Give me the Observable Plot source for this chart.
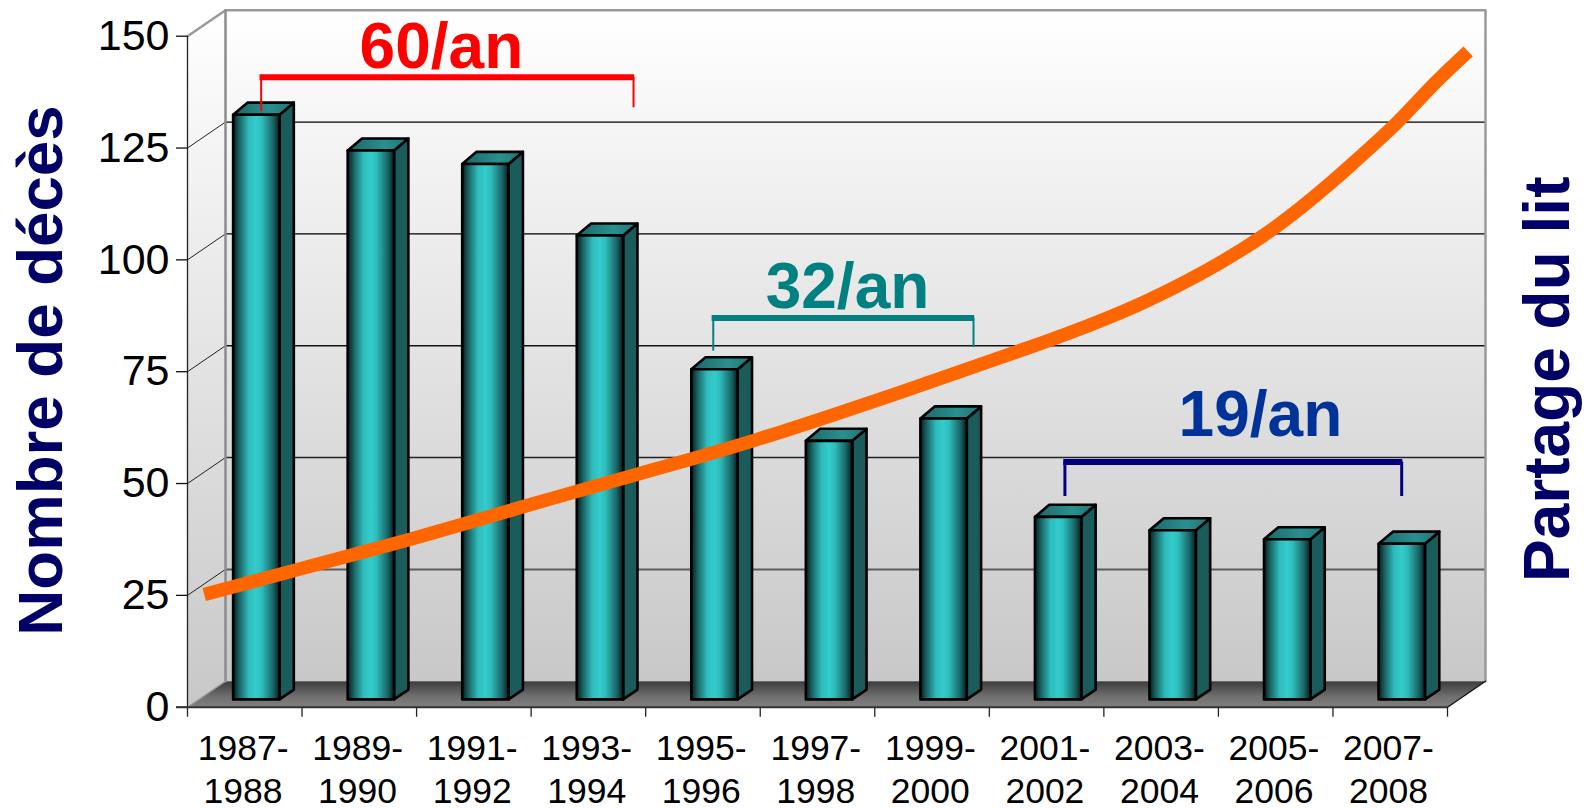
<!DOCTYPE html>
<html><head><meta charset="utf-8">
<style>html,body{margin:0;padding:0;background:#fff}svg{display:block}</style>
<script src="https://cdn.jsdelivr.net/npm/d3@7"></script>
<script src="https://cdn.jsdelivr.net/npm/@observablehq/plot@0.6"></script>
</head><body><script>
const periods = ["1987-\n1988","1989-\n1990","1991-\n1992","1993-\n1994","1995-\n1996","1997-\n1998","1999-\n2000","2001-\n2002","2003-\n2004","2005-\n2006","2007-\n2008"];
const deaths = [130.7,122.7,119.7,103.7,73.8,57.8,62.8,40.8,37.8,35.8,34.8];
const yTicks = [0,25,50,75,100,125,150];
const gridValues = [25,50,75,100,125];
const gridColors = ["#5c5c5c","#222222","#111111","#000000","#000000"];
const gridWidths = [2,1.6,1.5,1.3,1.3];
const trendX = [0.146,0.939,1.938,2.942,3.942,4.941,6.222,7.412,8.381,9.402,10.153,10.56,10.878,11.18];
const trendY = [25.2,30.6,37.5,44.9,52.2,59.6,70.4,81.0,90.9,105.6,121.1,130.7,139.2,146.6];
const bracketLabels = ["60/an","32/an","19/an"];
const labelX = [2.217,5.762,9.367];
const labelY = [147.5,93.9,65.3];
const labelColors = ["#ff0000","#008080","#003399"];
const bracketColors = ["#ff0000","#008080","#000080"];
const bracketX1 = [0.643,4.59,7.66];
const bracketX2 = [3.894,6.862,10.6];
const bracketTop = [140.8,87,54.8];
const bracketEnd1 = [133.2,79.6,47.1];
const bracketEnd2 = [134,80.4,47.1];
const bracketTopWidth = [6,6,6];
const bracketEndWidth = [2,2,3];
// depth of the box and of the bars, in x and y units
const DX = 0.3317, DY = 5.81, TOPV = 150;
const barOff = 0.2987, barW = 0.405, barZ = 0.3, barDX = 0.125, barDYb = 2.2, barDYt = 2.7;

const poly = pts => pts.map(([x,y]) => ({x,y}));
const shape = (pts, o) => Plot.line(poly(pts), {x:"x", y:"y", curve:"linear-closed", ...o});
const defs = () => d3.create("svg:defs").html(`
<linearGradient id="wall" x1="0" y1="0" x2="0" y2="1"><stop offset="0" stop-color="#ffffff"/><stop offset="1" stop-color="#c8c8c8"/></linearGradient>
<linearGradient id="floor" x1="0" y1="0" x2="0" y2="1"><stop offset="0" stop-color="#3c3c3c"/><stop offset="0.6" stop-color="#707070"/><stop offset="1" stop-color="#808080"/></linearGradient>
<linearGradient id="bar" x1="0" y1="0" x2="1" y2="0"><stop offset="0" stop-color="#071c1c"/><stop offset="0.14" stop-color="#1a6666"/><stop offset="0.34" stop-color="#2fbcbc"/><stop offset="0.5" stop-color="#33cccc"/><stop offset="0.62" stop-color="#2fbcbc"/><stop offset="0.86" stop-color="#1a6666"/><stop offset="1" stop-color="#071c1c"/></linearGradient>
<linearGradient id="cap" x1="0" y1="0" x2="1" y2="0"><stop offset="0" stop-color="#1a6666"/><stop offset="0.6" stop-color="#2a9090"/><stop offset="1" stop-color="#1f7373"/></linearGradient>
`).node();

const marks = [
  defs,
  shape([[DX,DY],[11+DX,DY],[11+DX,TOPV+DY],[DX,TOPV+DY]], {fill:"url(#wall)", stroke:"none"}),
  shape([[0,0],[DX,DY],[DX,TOPV+DY],[0,TOPV]], {fill:"url(#wall)", stroke:"none"}),
  shape([[0,0],[DX,DY],[11+DX,DY],[11,0]], {fill:"url(#floor)", stroke:"none"}),
  Plot.link(gridValues, {x1:DX, x2:11+DX, y1:d=>d+DY, y2:d=>d+DY, stroke:(d,i)=>gridColors[i], strokeWidth:(d,i)=>gridWidths[i]}),
  Plot.link(gridValues, {x1:0, x2:DX, y1:d=>d, y2:d=>d+DY, stroke:"#222", strokeWidth:1}),
  Plot.line(poly([[0,TOPV],[DX,TOPV+DY],[11+DX,TOPV+DY],[11+DX,DY]]), {x:"x",y:"y",stroke:"#9a9a9a",strokeWidth:2.5}),
  Plot.line(poly([[DX,TOPV+DY],[DX,DY]]), {x:"x",y:"y",stroke:"#8c8c8c",strokeWidth:2.5}),
  Plot.line(poly([[11,0],[11+DX,DY]]), {x:"x",y:"y",stroke:"#111",strokeWidth:1.3}),
  Plot.line(poly([[0,0],[DX,DY]]), {x:"x",y:"y",stroke:"#999",strokeWidth:1.3}),
  Plot.ruleX([0], {y1:0, y2:TOPV, stroke:"#222", strokeWidth:1.3}),
  Plot.axisY({ticks:yTicks, tickSize:11, tickPadding:7, fontSize:43, stroke:"#111", strokeWidth:1.3, color:"#000", label:null, textStroke:"none"}),
  Plot.axisX({ticks:d3.range(12), tickSize:10, tickFormat:()=>"", label:null, stroke:"#222", strokeWidth:1.3}),
  Plot.ruleY([0], {x1:-0.096, x2:11, stroke:"#333", strokeWidth:2}),
  Plot.text(periods, {x:(d,i)=>i+0.485, y:-13.6, text:d=>d, fontSize:35.5, lineHeight:1.215, fill:"#000"})
];
deaths.forEach((v,i) => {
  const l = i+barOff+barZ*DX, r = l+barW, b = barZ*DY, t = v+b;
  marks.push(
    shape([[r,b],[r+barDX,b+barDYb],[r+barDX,t+barDYt],[r,t]], {fill:"#1a5c5c", stroke:"#000", strokeWidth:2.6}),
    shape([[l,t],[l+barDX,t+barDYt],[r+barDX,t+barDYt],[r,t]], {fill:"url(#cap)", stroke:"#000", strokeWidth:2.6}),
    shape([[l,b],[r,b],[r,t],[l,t]], {fill:"url(#bar)", stroke:"#000", strokeWidth:2.6})
  );
});
bracketLabels.forEach((s,i) => {
  marks.push(
    Plot.ruleY([bracketTop[i]], {x1:bracketX1[i]-0.01, x2:bracketX2[i]+0.01, stroke:bracketColors[i], strokeWidth:bracketTopWidth[i]}),
    Plot.ruleX([bracketX1[i]], {y1:bracketTop[i], y2:bracketEnd1[i], stroke:bracketColors[i], strokeWidth:bracketEndWidth[i]}),
    Plot.ruleX([bracketX2[i]], {y1:bracketTop[i], y2:bracketEnd2[i], stroke:bracketColors[i], strokeWidth:bracketEndWidth[i]})
  );
});
marks.push(
  Plot.line(trendX.map((x,i)=>({x,y:trendY[i]})), {x:"x",y:"y",stroke:"#ff6600",strokeWidth:13.5,curve:"natural",strokeLinecap:"butt"}),
  Plot.text(bracketLabels, {x:(d,i)=>labelX[i], y:(d,i)=>labelY[i], text:d=>d, fill:(d,i)=>labelColors[i], fontSize:64, fontWeight:"bold"}),
  Plot.text(["Nombre de décès"], {x:-1.276, y:16, text:d=>d, rotate:-90, textAnchor:"start", fontSize:63.6, fontWeight:"bold", fill:"#000066"}),
  Plot.text(["Partage du lit"], {x:11.88, y:28, text:d=>d, rotate:-90, textAnchor:"start", fontSize:64, fontWeight:"bold", fill:"#000066"})
);
const chart = Plot.plot({
  width:1594, height:808, marginLeft:187, marginRight:147, marginTop:35.7, marginBottom:101.3,
  x:{domain:[0,11]}, y:{domain:[0,150]},
  color:{type:"identity"},
  style:{fontFamily:"'Liberation Sans',Arial,sans-serif", background:"#fff", overflow:"visible", maxWidth:"none"},
  marks
});
document.body.appendChild(chart);
</script></body></html>
